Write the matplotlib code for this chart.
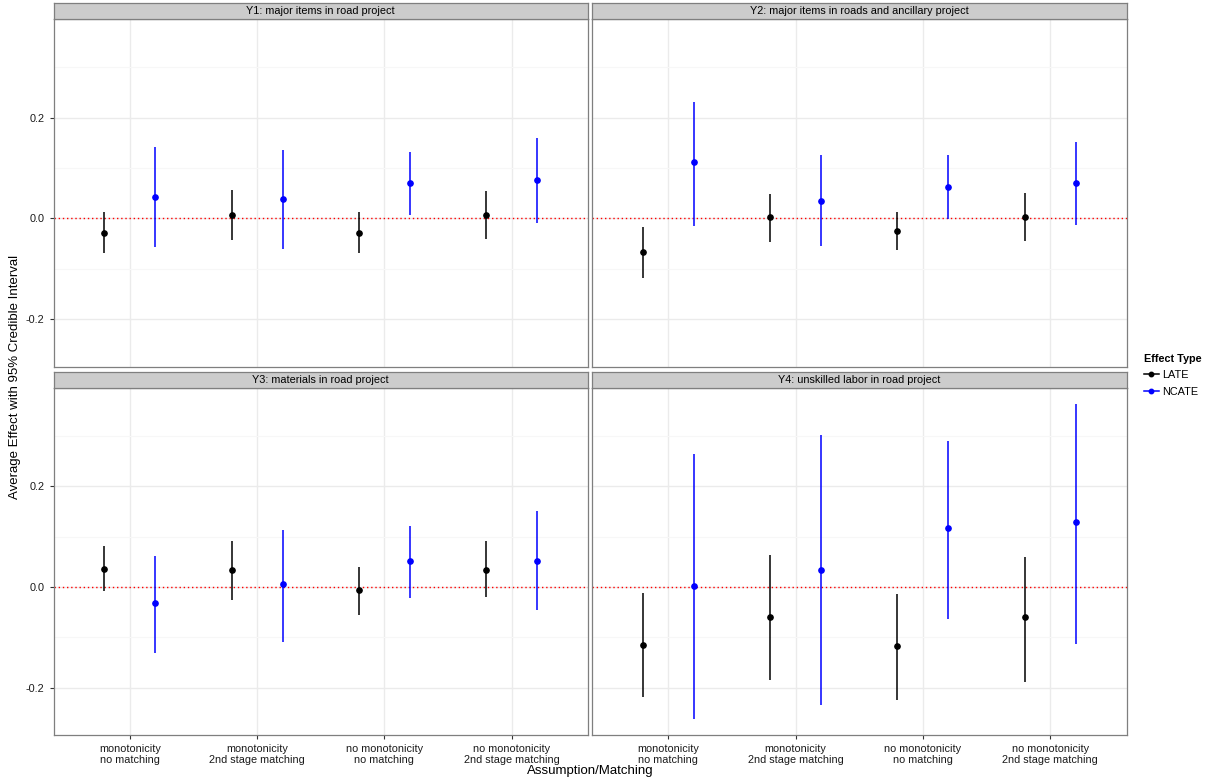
import numpy as np
import matplotlib.pyplot as plt
from matplotlib.lines import Line2D

plt.rcParams['font.family'] = ['Liberation Sans', 'DejaVu Sans']
plt.rcParams['axes.unicode_minus'] = False

# data
categories = ["monotonicity\nno matching", "monotonicity\n2nd stage matching",
              "no monotonicity\nno matching", "no monotonicity\n2nd stage matching"]
panel_titles = ["Y1: major items in road project",
                "Y2: major items in roads and ancillary project",
                "Y3: materials in road project",
                "Y4: unskilled labor in road project"]

late_est = [[-0.029, 0.007, -0.029, 0.007],
            [-0.066, 0.003, -0.025, 0.003],
            [0.036, 0.034, -0.007, 0.034],
            [-0.116, -0.059, -0.118, -0.059]]
late_lo = [[-0.068, -0.043, -0.068, -0.041],
           [-0.118, -0.047, -0.063, -0.045],
           [-0.009, -0.026, -0.055, -0.020],
           [-0.219, -0.185, -0.225, -0.189]]
late_hi = [[0.012, 0.057, 0.012, 0.055],
           [-0.017, 0.049, 0.013, 0.051],
           [0.081, 0.092, 0.040, 0.091],
           [-0.012, 0.063, -0.014, 0.059]]

ncate_est = [[0.042, 0.039, 0.070, 0.076],
             [0.111, 0.034, 0.062, 0.070],
             [-0.031, 0.005, 0.052, 0.052],
             [0.001, 0.034, 0.117, 0.129]]
ncate_lo = [[-0.056, -0.061, 0.006, -0.008],
            [-0.015, -0.055, -0.001, -0.013],
            [-0.132, -0.110, -0.022, -0.045],
            [-0.263, -0.234, -0.063, -0.114]]
ncate_hi = [[0.141, 0.136, 0.132, 0.159],
            [0.231, 0.126, 0.126, 0.152],
            [0.061, 0.114, 0.122, 0.150],
            [0.265, 0.301, 0.290, 0.364]]

series = [("LATE", "black", late_est, late_lo, late_hi, -0.2),
          ("NCATE", "blue", ncate_est, ncate_lo, ncate_hi, 0.2)]

W, H = 1210, 780
fig = plt.figure(figsize=(W / 100, H / 100), dpi=100)


def box(x0, y0, x1, y1):
    return [x0 / W, 1 - y1 / H, (x1 - x0) / W, (y1 - y0) / H]


cols = [(53.5, 588), (592, 1126.5)]
rows = [(3, 19, 367), (372, 388, 735)]

ymin = min(np.min(late_lo), np.min(ncate_lo))
ymax = max(np.max(late_hi), np.max(ncate_hi))
pad = 0.05 * (ymax - ymin)
xpos = np.arange(1, len(categories) + 1)

for i in range(4):
    r, c = divmod(i, 2)
    x0, x1 = cols[c]
    s0, p0, p1 = rows[r]
    ax = fig.add_axes(box(x0, p0, x1, p1))
    st = fig.add_axes(box(x0, s0, x1, p0))
    st.set_facecolor('#CCCCCC')
    st.set_xticks([])
    st.set_yticks([])
    for sp in st.spines.values():
        sp.set_color('#7F7F7F')
        sp.set_linewidth(0.9)
    st.text(0.5, 0.5, panel_titles[i], ha='center', va='center',
            fontsize=7.8, transform=st.transAxes)

    ax.set_xlim(0.4, 4.6)
    ax.set_ylim(ymin - pad, ymax + pad)
    ax.set_yticks([-0.2, 0.0, 0.2])
    ax.set_yticks([-0.1, 0.1, 0.3], minor=True)
    ax.set_xticks(xpos)
    ax.grid(True, which='major', color='#EBEBEB', lw=1.0)
    ax.grid(True, which='minor', axis='y', color='#F7F7F7', lw=0.8)
    ax.set_axisbelow(True)
    for sp in ax.spines.values():
        sp.set_color('#7F7F7F')
        sp.set_linewidth(0.9)
    ax.tick_params(which='minor', length=0)
    ax.tick_params(which='major', length=3, color='#333333', labelsize=7.8,
                   labelcolor='#1A1A1A', width=0.8)

    ax.axhline(0, color='red', ls=(0, (1, 2)), lw=1.0, zorder=1)

    for name, color, est, lo, hi, off in series:
        ax.vlines(xpos + off, lo[i], hi[i], color=color, lw=1.1, zorder=3)
        ax.plot(xpos + off, est[i], 'o', color=color, ms=3.8, zorder=4)

    if r == 1:
        ax.set_xticklabels(categories, linespacing=1.1)
    else:
        ax.tick_params(axis='x', length=0, labelbottom=False)
    if c == 0:
        ax.yaxis.set_major_formatter(plt.FuncFormatter(lambda v, p: f"{v:.1f}"))
    else:
        ax.tick_params(axis='y', length=0, labelleft=False)

fig.text(15 / W, 1 - 377 / H, "Average Effect with 95% Credible Interval",
         rotation=90, ha='center', va='center', fontsize=9.5)
fig.text(590 / W, 1 - 771 / H, "Assumption/Matching", ha='center', va='center',
         fontsize=9.5)

handles = [Line2D([], [], color=col, marker='o', ms=3.2, lw=1.1)
           for _, col, *_ in series]
leg = fig.legend(handles, [s[0] for s in series], title="Effect Type",
                 loc='upper left', bbox_to_anchor=(1134 / W, 1 - 344 / H),
                 frameon=False, fontsize=7.8, handlelength=1.4,
                 handletextpad=0.3, labelspacing=0.6,
                 title_fontproperties={'weight': 'bold', 'size': 7.8})
leg._legend_box.align = 'left'

fig.savefig("out.png", dpi=100)
